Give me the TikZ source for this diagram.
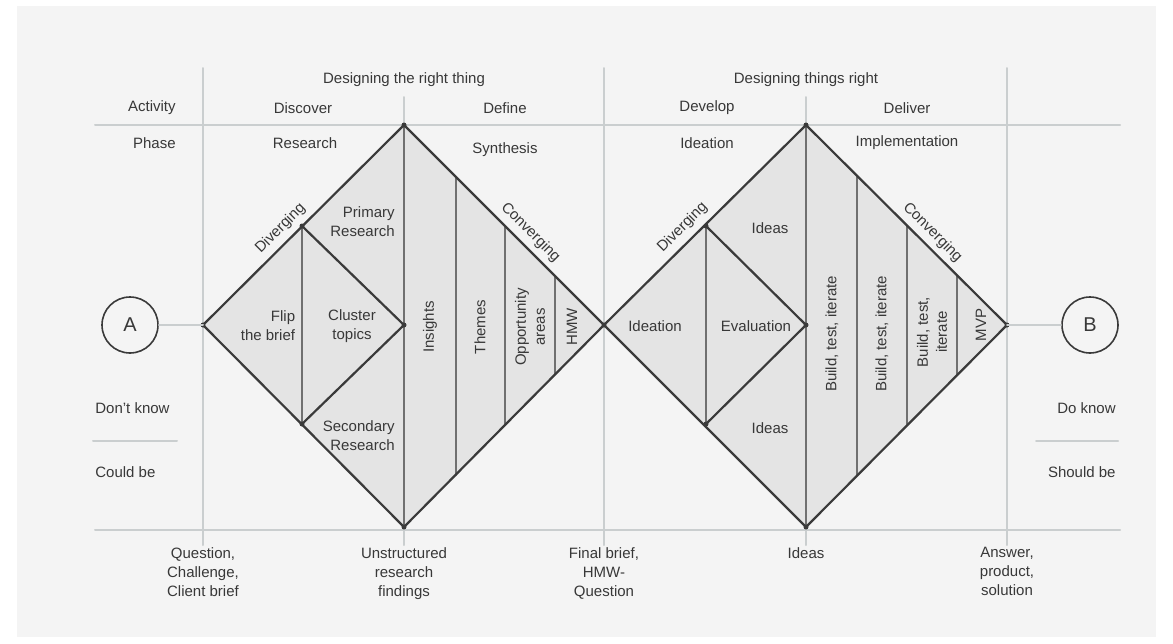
\documentclass[tikz,border=0pt]{standalone}
\usepackage{fontspec}
\setmainfont{Liberation Sans}
\definecolor{paper}{HTML}{F4F4F4}
\definecolor{gridgrey}{HTML}{CACECF}
\definecolor{fillgrey}{HTML}{E4E4E4}
\definecolor{rimgrey}{HTML}{3A3A3A}
\definecolor{splitgrey}{HTML}{707070}
\definecolor{txtgrey}{HTML}{383838}
\tikzset{
  gridline/.style={gridgrey, line width=1pt},
  rimline/.style={rimgrey, line width=1.1pt},
  splitline/.style={splitgrey, line width=1pt},
  lbl/.style={text=txtgrey, align=center, inner sep=1pt},
  vlbl/.style={lbl, rotate=90},
}
\begin{document}
\begin{tikzpicture}[line cap=round,line join=round,x=0.5pt,y=-0.5pt,
  font=\fontsize{7.5}{9.5}\selectfont]
\useasboundingbox (0,0) rectangle (1173,643);
\fill [paper] (17,6) rectangle (1156,637);

% grid
\draw [gridline] (95,125)--(1120,125);
\draw [gridline] (95,530)--(1120,530);
\draw [gridline] (203,68)--(203,545);
\draw [gridline] (604,68)--(604,545);
\draw [gridline] (1007,68)--(1007,545);
\draw [gridline] (404,97)--(404,545);
\draw [gridline] (806,97)--(806,545);
\draw [gridline] (93,441)--(177,441);
\draw [gridline] (1036,441)--(1118,441);

% diamond corners
\coordinate (lw) at (203,325);
\coordinate (ln) at (404,125);
\coordinate (le) at (604,325);
\coordinate (ls) at (404,527);
\coordinate (rn) at (806,125);
\coordinate (re) at (1007,325);
\coordinate (rs) at (806,527);

\fill [fillgrey] (lw)--(ln)--(le)--(ls)--cycle;
\fill [fillgrey] (le)--(rn)--(re)--(rs)--cycle;

% left diamond
\draw [splitline] (302,226)--(302,424);
\draw [splitline] (ln)--(ls);
\draw [splitline] (456,177)--(456,475);
\draw [splitline] (505,226)--(505,424);
\draw [splitline] (555,276)--(555,374);
\draw [rimline] (302,226)--(404,325)--(302,424);
\draw [rimline] (lw)--(ln)--(le)--(ls)--cycle;

% right diamond
\draw [splitline] (706,226)--(706,424);
\draw [splitline] (rn)--(rs);
\draw [splitline] (857,177)--(857,475);
\draw [splitline] (907,226)--(907,424);
\draw [splitline] (957,276)--(957,374);
\draw [rimline] (706,226)--(806,325)--(706,424);
\draw [rimline] (le)--(rn)--(re)--(rs)--cycle;

\fill [rimgrey] (lw) circle [radius=2.5];
\fill [rimgrey] (ln) circle [radius=2.5];
\fill [rimgrey] (le) circle [radius=2.5];
\fill [rimgrey] (ls) circle [radius=2.5];
\fill [rimgrey] (rn) circle [radius=2.5];
\fill [rimgrey] (re) circle [radius=2.5];
\fill [rimgrey] (rs) circle [radius=2.5];
\fill [rimgrey] (302,226) circle [radius=2.5];
\fill [rimgrey] (302,424) circle [radius=2.5];
\fill [rimgrey] (404,325) circle [radius=2.5];
\fill [rimgrey] (706,226) circle [radius=2.5];
\fill [rimgrey] (706,424) circle [radius=2.5];
\fill [rimgrey] (806,325) circle [radius=2.5];

% start and end
\node [circle, draw=rimgrey, line width=0.8pt, minimum size=28pt,
  text=txtgrey, font=\fontsize{10}{12}\selectfont] (a) at (130,325) {A};
\node [circle, draw=rimgrey, line width=0.8pt, minimum size=28pt,
  text=txtgrey, font=\fontsize{10}{12}\selectfont] (b) at (1090,325) {B};
\draw [gridline] (a)--(lw);
\draw [gridline] (re)--(b);

% headings
\node [lbl] (rightthing) at (404,80) {Designing the right thing};
\node [lbl] (thingsright) at (806,80) {Designing things right};
\node [lbl, anchor=east] (activity) at (178,108) {Activity};
\node [lbl, anchor=east] (phase) at (178,143) {Phase};
\node [lbl] (discover) at (303,108) {Discover};
\node [lbl] (define) at (505,108) {Define};
\node [lbl] (develop) at (707,108) {Develop};
\node [lbl] (deliver) at (907,108) {Deliver};
\node [lbl] (research) at (305,143) {Research};
\node [lbl] (synthesis) at (505,150) {Synthesis};
\node [lbl] (ideationph) at (707,143) {Ideation};
\node [lbl] (implement) at (907,143) {Implementation};

% left diamond labels
\node [lbl, align=right] (flip) at (268,326) {Flip\\the brief};
\node [lbl] (cluster) at (352,326) {Cluster\\topics};
\node [lbl, align=right, anchor=east] (primary) at (397,222) {Primary\\Research};
\node [lbl, align=right, anchor=east] (secondary) at (397,436) {Secondary\\Research};
\node [vlbl] (insights) at (430,327) {Insights};
\node [vlbl] (themes) at (480,327) {Themes};
\node [vlbl] (opportunity) at (530,327) {Opportunity\\areas};
\node [vlbl] (hmw) at (572,327) {HMW};
\node [lbl, rotate=45, anchor=south, inner sep=3pt] (divleft) at (290,238) {Diverging};
\node [lbl, rotate=-45, anchor=south, inner sep=3pt] (convleft) at (521,242) {Converging};

% right diamond labels
\node [lbl] (ideation) at (655,326) {Ideation};
\node [lbl] (evaluation) at (756,326) {Evaluation};
\node [lbl] (ideastop) at (770,228) {Ideas};
\node [lbl] (ideasbot) at (770,428) {Ideas};
\node [vlbl] (bti1) at (832,334) {Build, test, iterate};
\node [vlbl] (bti2) at (882,334) {Build, test, iterate};
\node [vlbl] (bti3) at (932,332) {Build, test,\\iterate};
\node [vlbl] (mvp) at (981,325) {MVP};
\node [lbl, rotate=45, anchor=south, inner sep=3pt] (divright) at (692,237) {Diverging};
\node [lbl, rotate=-45, anchor=south, inner sep=3pt] (convright) at (923,242) {Converging};

% side labels
\node [lbl, anchor=west] (dontknow) at (93,408) {Don't know};
\node [lbl, anchor=west] (couldbe) at (93,472) {Could be};
\node [lbl, anchor=east] (doknow) at (1118,408) {Do know};
\node [lbl, anchor=east] (shouldbe) at (1118,472) {Should be};

% bottom labels
\node [lbl, anchor=north] (question) at (203,545) {Question,\\Challenge,\\Client brief};
\node [lbl, anchor=north] (findings) at (404,545) {Unstructured\\research\\findings};
\node [lbl, anchor=north] (finalbrief) at (604,545) {Final brief,\\HMW-\\Question};
\node [lbl, anchor=north] (ideasout) at (806,545) {Ideas};
\node [lbl, anchor=north] (answer) at (1007,545) {Answer,\\product,\\solution};
\end{tikzpicture}
\end{document}
